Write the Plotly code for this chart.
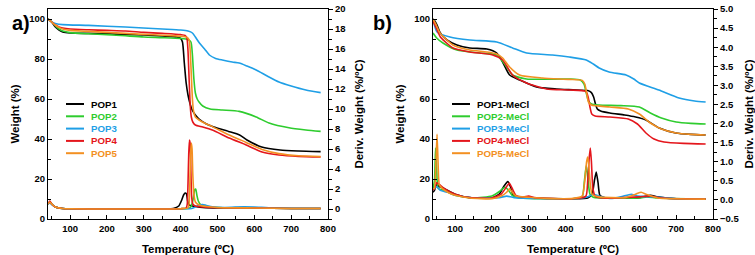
import plotly.graph_objects as go

# ---------------- data: panel a) ----------------
series_a = ["POP1", "POP2", "POP3", "POP4", "POP5"]
series_b = ["POP1-MeCl", "POP2-MeCl", "POP3-MeCl", "POP4-MeCl", "POP5-MeCl"]
colors = ["#000000", "#2ecc2e", "#1f9fe6", "#e4161c", "#f39022"]

# TGA (weight %)
a1_T = [40, 50, 60, 70, 80, 100, 150, 200, 250, 300, 350, 390, 400, 405, 410, 415, 420, 425, 430, 440, 450, 470, 490, 530, 560, 580, 620, 670, 720, 780]
a1_W = [100, 98.5, 96, 94.5, 93.5, 93.0, 92.8, 92.6, 92.3, 92.0, 91.5, 91.0, 90.3, 88.5, 78, 68, 62, 58, 55, 52, 50, 47.5, 46, 43.8, 42, 39.5, 36, 34.5, 34.0, 33.7]
a2_T = [40, 50, 60, 70, 80, 100, 150, 200, 250, 300, 350, 400, 420, 428, 432, 436, 440, 445, 450, 460, 480, 513, 559, 605, 640, 694, 740, 780]
a2_W = [100, 98.5, 96.5, 95, 94, 93.2, 92.6, 92.2, 91.6, 91.0, 90.7, 90.3, 89.8, 88.5, 82, 70, 63, 60, 58.5, 56.5, 55, 54.5, 53.8, 51, 48, 45.6, 44.5, 43.8]
a3_T = [40, 50, 60, 80, 150, 250, 350, 400, 420, 432, 440, 451, 465, 478, 495, 513, 540, 559, 580, 605, 635, 667, 700, 740, 780]
a3_W = [100, 98.5, 97.8, 97.2, 96.8, 96.0, 95.0, 94.5, 94.0, 93.0, 91, 88, 85, 82, 80.3, 79.5, 78.5, 78, 76.5, 74.5, 71.5, 68.5, 66.5, 64.5, 63.2]
a4_T = [40, 50, 60, 70, 80, 100, 150, 200, 250, 300, 350, 400, 412, 417, 420, 423, 426, 429, 433, 440, 460, 486, 532, 578, 621, 667, 720, 780]
a4_W = [100, 98.5, 97, 96, 95.5, 95.0, 94.6, 94.3, 94.0, 93.3, 92.8, 92.2, 91.8, 90.5, 84, 70, 57, 51, 48.5, 47, 46, 44.5, 40.5, 37, 33.5, 32, 31.3, 31.0]
a5_T = [40, 50, 60, 70, 80, 100, 150, 200, 250, 300, 350, 400, 418, 423, 426, 429, 432, 435, 440, 450, 470, 486, 532, 578, 621, 667, 720, 780]
a5_W = [100, 98.5, 97, 95.8, 95, 94.3, 93.8, 93.3, 92.8, 92.3, 91.9, 91.4, 90.8, 89.5, 84, 72, 60, 54, 51, 49.5, 47.5, 46.2, 42, 38.3, 34.8, 32.7, 31.6, 31.2]

# DTG (deriv. weight %/ºC)
a1_D_T = [40, 45, 50, 60, 80, 100, 200, 300, 380, 395, 403, 408, 412, 416, 419, 422, 426, 432, 440, 460, 500, 560, 600, 700, 780]
a1_D = [0.5, 0.7, 0.5, 0.2, 0.05, 0.02, 0.0, 0.0, 0.05, 0.3, 0.9, 1.4, 1.6, 1.5, 0.8, 0.45, 0.35, 0.3, 0.25, 0.15, 0.1, 0.15, 0.1, 0.05, 0.05]
a2_D_T = [40, 45, 50, 60, 80, 100, 200, 300, 400, 425, 430, 435, 438, 441, 444, 448, 455, 470, 500, 600, 700, 780]
a2_D = [0.5, 0.7, 0.5, 0.2, 0.05, 0.02, 0.0, 0.0, 0.03, 0.1, 0.4, 1.2, 1.9, 2.0, 1.4, 0.8, 0.4, 0.25, 0.15, 0.1, 0.05, 0.05]
a3_D_T = [40, 45, 50, 60, 80, 100, 200, 300, 400, 430, 440, 450, 460, 470, 490, 520, 570, 600, 650, 780]
a3_D = [0.5, 0.6, 0.45, 0.2, 0.05, 0.02, 0.0, 0.0, 0.03, 0.05, 0.2, 0.4, 0.45, 0.35, 0.2, 0.15, 0.22, 0.2, 0.1, 0.05]
a4_D_T = [40, 45, 50, 60, 80, 100, 200, 300, 400, 415, 418, 420, 422, 424, 426, 428, 430, 433, 440, 460, 500, 600, 700, 780]
a4_D = [0.5, 0.8, 0.5, 0.2, 0.05, 0.02, 0.0, 0.0, 0.03, 0.1, 0.5, 2.5, 5.5, 6.9, 6.5, 3.5, 1.2, 0.5, 0.3, 0.2, 0.12, 0.1, 0.05, 0.05]
a5_D_T = [40, 45, 50, 60, 80, 100, 200, 300, 400, 420, 423, 425, 427, 429, 431, 433, 436, 440, 450, 470, 500, 600, 700, 780]
a5_D = [0.5, 0.7, 0.5, 0.2, 0.05, 0.02, 0.0, 0.0, 0.03, 0.1, 0.6, 2.5, 5.5, 6.6, 6.0, 3.5, 1.5, 0.7, 0.4, 0.25, 0.15, 0.1, 0.05, 0.05]

# ---------------- data: panel b) ----------------
b1_T = [40, 45, 51, 60, 78, 105, 140, 186, 213, 229, 248, 275, 321, 375, 420, 460, 470, 476, 481, 486, 495, 520, 560, 590, 618, 654, 699, 740, 780]
b1_W = [100, 99, 97, 93, 89.5, 87, 85.5, 85, 83, 78.5, 72, 69.5, 66, 65, 64.6, 64.2, 63.2, 61, 57.5, 55, 54, 53, 52, 51, 49.5, 45.5, 43, 42.3, 42]
b2_T = [40, 50, 67, 105, 167, 213, 240, 256, 294, 410, 440, 450, 456, 462, 470, 490, 550, 600, 630, 660, 700, 740, 780]
b2_W = [93, 90.5, 88, 84.5, 83, 82, 76, 72, 70, 70, 69.5, 67.5, 63, 59, 57.5, 57, 56.7, 56, 53, 50.5, 48.5, 47.8, 47.5]
b3_T = [40, 51, 86, 140, 213, 256, 294, 364, 410, 456, 475, 491, 518, 564, 585, 600, 653, 708, 750, 780]
b3_W = [100, 93.5, 91, 89.5, 88.5, 85.5, 83, 82, 81, 79.5, 77.5, 75.5, 73.5, 72, 70, 68, 64.5, 60.5, 59, 58.5]
b4_T = [40, 50, 60, 80, 94, 140, 202, 229, 256, 294, 348, 410, 455, 461, 466, 471, 480, 520, 570, 595, 618, 640, 667, 720, 780]
b4_W = [99, 95, 91, 87.5, 85.5, 83.5, 82, 79.5, 72, 68, 65, 64.5, 63.8, 61, 56, 52.5, 51.5, 51, 50, 47.5, 43, 40, 38.5, 37.8, 37.5]
b5_T = [40, 50, 59, 94, 140, 186, 213, 229, 248, 275, 337, 410, 445, 452, 457, 462, 470, 520, 570, 600, 630, 660, 700, 740, 780]
b5_W = [100, 96.5, 93, 87, 84.5, 83.5, 82.5, 80.5, 76, 72, 70.5, 69.8, 69.3, 67.5, 63, 58.5, 57, 56, 55, 52.5, 48, 45, 43, 42.3, 42]

b1_D_T = [40, 44, 50, 57, 70, 100, 140, 200, 220, 232, 243, 250, 258, 280, 300, 420, 460, 472, 478, 483, 488, 493, 510, 600, 630, 650, 700, 780]
b1_D = [0.2, 0.25, 0.4, 0.35, 0.3, 0.15, 0.06, 0.05, 0.15, 0.35, 0.48, 0.35, 0.12, 0.07, 0.05, 0.03, 0.05, 0.15, 0.5, 0.73, 0.45, 0.12, 0.05, 0.06, 0.12, 0.08, 0.03, 0.02]
b2_D_T = [40, 44, 47, 50, 54, 70, 100, 150, 200, 220, 235, 245, 255, 270, 420, 445, 451, 456, 461, 466, 475, 490, 600, 620, 650, 780]
b2_D = [0.3, 0.5, 1.36, 0.8, 0.3, 0.25, 0.12, 0.05, 0.1, 0.22, 0.33, 0.25, 0.12, 0.06, 0.03, 0.08, 0.5, 0.9, 0.5, 0.15, 0.07, 0.05, 0.05, 0.08, 0.05, 0.02]
b3_D_T = [40, 44, 50, 60, 80, 100, 150, 220, 240, 260, 420, 460, 475, 490, 520, 550, 578, 595, 640, 700, 780]
b3_D = [0.25, 0.3, 0.35, 0.25, 0.2, 0.12, 0.05, 0.06, 0.1, 0.06, 0.03, 0.08, 0.15, 0.1, 0.04, 0.08, 0.15, 0.1, 0.08, 0.03, 0.02]
b4_D_T = [40, 44, 50, 58, 70, 100, 140, 200, 225, 240, 247, 255, 265, 285, 300, 315, 420, 455, 460, 464, 467, 470, 474, 480, 500, 600, 630, 660, 780]
b4_D = [0.25, 0.3, 0.45, 0.4, 0.3, 0.15, 0.06, 0.05, 0.15, 0.35, 0.44, 0.3, 0.12, 0.08, 0.1, 0.06, 0.03, 0.1, 0.5, 1.1, 1.36, 1.0, 0.3, 0.1, 0.05, 0.08, 0.1, 0.05, 0.02]
b5_D_T = [40, 44, 48, 51, 54, 57, 65, 80, 100, 140, 200, 225, 240, 248, 255, 265, 300, 350, 420, 445, 452, 457, 460, 463, 467, 472, 490, 560, 590, 605, 620, 650, 780]
b5_D = [0.3, 0.3, 1.0, 1.72, 0.9, 0.4, 0.3, 0.2, 0.12, 0.05, 0.03, 0.1, 0.2, 0.3, 0.2, 0.1, 0.07, 0.04, 0.04, 0.1, 0.5, 1.0, 1.12, 0.9, 0.4, 0.15, 0.08, 0.06, 0.15, 0.2, 0.14, 0.05, 0.02]

tga_a = [(a1_T, a1_W), (a2_T, a2_W), (a3_T, a3_W), (a4_T, a4_W), (a5_T, a5_W)]
dtg_a = [(a1_D_T, a1_D), (a2_D_T, a2_D), (a3_D_T, a3_D), (a4_D_T, a4_D), (a5_D_T, a5_D)]
tga_b = [(b1_T, b1_W), (b2_T, b2_W), (b3_T, b3_W), (b4_T, b4_W), (b5_T, b5_W)]
dtg_b = [(b1_D_T, b1_D), (b2_D_T, b2_D), (b3_D_T, b3_D), (b4_D_T, b4_D), (b5_D_T, b5_D)]

x_ticks = [100, 200, 300, 400, 500, 600, 700, 800]
w_ticks = [0, 20, 40, 60, 80, 100]
d_ticks_a = [0, 2, 4, 6, 8, 10, 12, 14, 16, 18, 20]
d_ticks_b = [-0.5, 0.0, 0.5, 1.0, 1.5, 2.0, 2.5, 3.0, 3.5, 4.0, 4.5, 5.0]

# ---------------- figure ----------------
W, H = 755, 255
FONT = "Liberation Sans, Arial, sans-serif"

def px(x):
    return x / W

def py(y):
    return 1 - y / H

fig = go.Figure()
LW = 1.6
for i in range(5):
    fig.add_trace(go.Scatter(x=tga_a[i][0], y=tga_a[i][1], mode="lines", name=series_a[i],
                             line=dict(color=colors[i], width=LW, shape="spline", smoothing=0.6),
                             xaxis="x", yaxis="y", showlegend=False))
for i in range(5):
    fig.add_trace(go.Scatter(x=dtg_a[i][0], y=dtg_a[i][1], mode="lines", name=series_a[i] + " DTG",
                             line=dict(color=colors[i], width=LW, shape="spline", smoothing=0.5),
                             xaxis="x", yaxis="y2", showlegend=False))
for i in range(5):
    fig.add_trace(go.Scatter(x=tga_b[i][0], y=tga_b[i][1], mode="lines", name=series_b[i],
                             line=dict(color=colors[i], width=LW, shape="spline", smoothing=0.6),
                             xaxis="x2", yaxis="y3", showlegend=False))
for i in range(5):
    fig.add_trace(go.Scatter(x=dtg_b[i][0], y=dtg_b[i][1], mode="lines", name=series_b[i] + " DTG",
                             line=dict(color=colors[i], width=LW, shape="spline", smoothing=0.5),
                             xaxis="x2", yaxis="y4", showlegend=False))

tick_font = dict(family=FONT, size=9.5, color="black", weight="bold")
title_font = dict(family=FONT, size=11.5, color="black", weight="bold")
ydom = [py(219), py(9)]
dom_a = [px(48), px(328)]
dom_b = [px(433), px(713)]

def xaxis(domain, anchor):
    return dict(domain=domain, anchor=anchor, range=[40, 800], tickvals=x_ticks,
                ticks="inside", ticklen=4, tickwidth=1.2, tickcolor="black",
                minor=dict(dtick=50, tick0=0, ticks="inside", ticklen=2.5, tickwidth=1, tickcolor="black"),
                showline=True, linecolor="black", linewidth=1.2, mirror=True,
                showgrid=False, zeroline=False, tickfont=tick_font,
                title=dict(text="Temperature (ºC)", font=title_font, standoff=12), automargin=False)

def wy(anchor):
    return dict(domain=ydom, anchor=anchor, range=[0, 105], tickvals=w_ticks,
                ticks="inside", ticklen=4, tickwidth=1.2, tickcolor="black",
                minor=dict(dtick=10, tick0=0, ticks="inside", ticklen=2.5, tickwidth=1, tickcolor="black"),
                showline=True, linecolor="black", linewidth=1.2, showgrid=False, zeroline=False,
                tickfont=tick_font, title=dict(text="Weight (%)", font=title_font, standoff=7), automargin=False)

def dy(anchor, overlay, rng, ticks, minor_dt, fmt):
    return dict(anchor=anchor, overlaying=overlay, side="right", range=rng, tickvals=ticks,
                tickformat=fmt, ticks="outside", ticklen=4, tickwidth=1.2, tickcolor="black",
                minor=dict(dtick=minor_dt, tick0=0, ticks="outside", ticklen=2.5, tickwidth=1, tickcolor="black"),
                showline=True, linecolor="black", linewidth=1.2, showgrid=False, zeroline=False,
                tickfont=tick_font, title=dict(text="Deriv. Weight (%/ºC)", font=title_font, standoff=9),
                automargin=False)

fig.update_layout(
    width=W, height=H, margin=dict(l=0, r=0, t=0, b=0),
    paper_bgcolor="white", plot_bgcolor="white", showlegend=False,
    xaxis=xaxis(dom_a, "y"), yaxis=wy("x"),
    yaxis2=dy("x", "y", [-1, 20], d_ticks_a, 1, "d"),
    xaxis2=xaxis(dom_b, "y3"), yaxis3=wy("x2"),
    yaxis4=dy("x2", "y3", [-0.5, 5.0], d_ticks_b, 0.25, ".1f"),
)

# panel labels
for lab, x0 in (("a)", 11), ("b)", 382)):
    fig.add_annotation(x=px(x0), y=py(11), xref="paper", yref="paper", text=lab, showarrow=False,
                       borderpad=0, font=dict(family=FONT, size=20, color="black", weight="bold"))

# manual legends (short line samples, coloured bold text)
leg_rows = [104, 116.3, 128.6, 140.9, 153.2]
for names, x0 in ((series_a, 66), (series_b, 452)):
    for i, name in enumerate(names):
        yy = py(leg_rows[i])
        fig.add_shape(type="line", xref="paper", yref="paper", x0=px(x0), x1=px(x0 + 18), y0=yy, y1=yy,
                      line=dict(color=colors[i], width=2))
        fig.add_annotation(x=px(x0 + 23), y=yy, xref="paper", yref="paper", text=name, showarrow=False,
                           xanchor="left", yanchor="middle",
                           font=dict(family=FONT, size=9.7, color=colors[i], weight="bold"))

fig.write_html("out.html", config={"displayModeBar": False},
               post_script="document.body.style.margin='0px';document.body.style.overflow='hidden';")
